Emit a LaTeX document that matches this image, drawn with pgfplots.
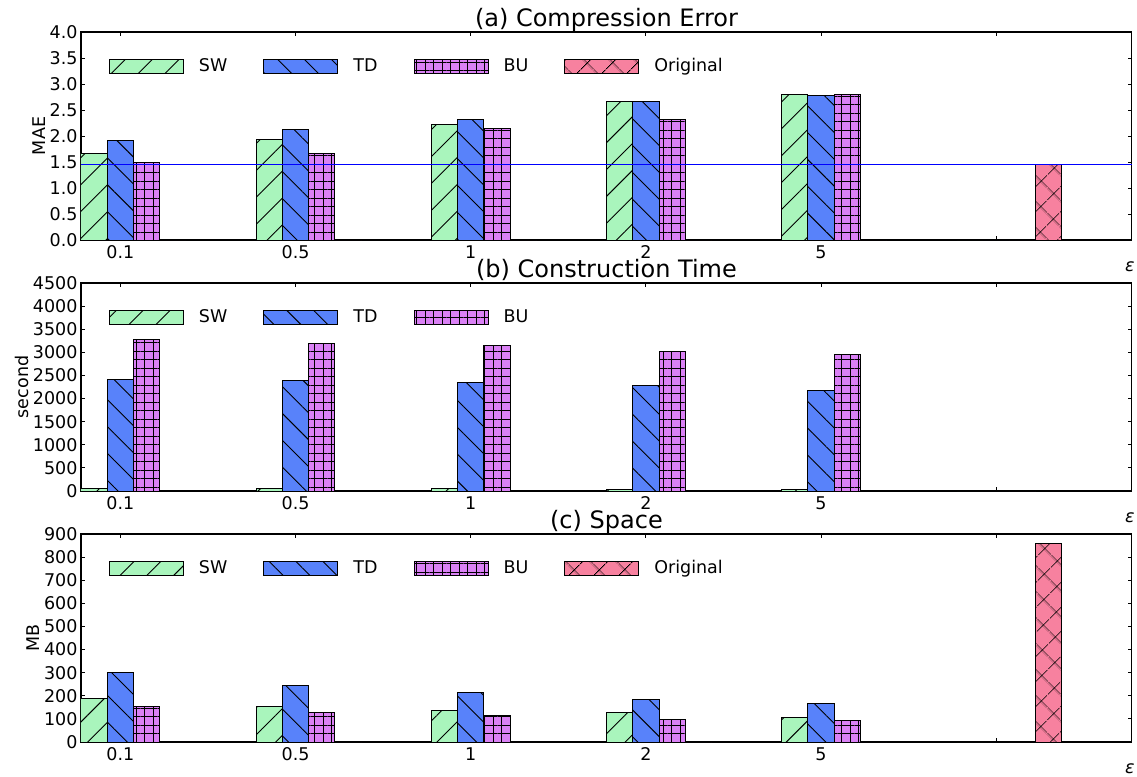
\documentclass[border=0pt]{standalone}
\usepackage{fontspec}
\setmainfont{DejaVu Sans}
\usepackage{pgfplots}
\pgfplotsset{compat=1.18}
\usetikzlibrary{patterns.meta}

\definecolor{swgreen}{HTML}{A9F5BC}
\definecolor{tdblue}{HTML}{5882FA}
\definecolor{buviolet}{HTML}{DA81F5}
\definecolor{origpink}{HTML}{F7819F}

\newcommand{\smallfont}{\fontsize{17.5}{21}\selectfont}

\pgfplotsset{
  panel/.style={
    scale only axis, width=1051pt, height=208pt,
    xmin=-0.225, xmax=5.775, ymin=0,
    xtick={0,1,2,3,4,5}, xticklabels={0.1,0.5,1,2,5,},
    tick align=inside, major tick length=4pt,
    every tick/.style={black, line width=0.8pt},
    axis line style={line width=1.1pt},
    tick label style={font=\smallfont},
    xticklabel style={yshift=-2pt},
    /pgf/number format/assume math mode=true,
    /pgf/number format/1000 sep={},
    scaled y ticks=false,
    label style={font=\smallfont},
    title style={font=\fontsize{24}{29}\selectfont, at={(0.5,1)}, anchor=base},
    xlabel={\itshape ε},
    xlabel style={at={(1,0)}, anchor=center, xshift=-2pt, yshift=-27pt},
    ylabel style={inner sep=1pt},
    legend columns=4,
    legend cell align=left,
    legend style={draw=none, fill=none, at={(0.0266,0.8365)}, anchor=west,
      inner sep=0pt, outer sep=0pt, nodes={inner sep=0pt},
      column sep=15pt, /tikz/every even column/.append style={column sep=36pt},
      font=\smallfont},
  },
  barstyle/.style={ybar, bar width=0.15, bar shift=0pt, draw=black, line width=1pt,
    legend image code/.code={\draw[##1] (0pt,-7pt) rectangle (74pt,7pt);}},
  sw/.style={barstyle, fill=swgreen,
    postaction={pattern={Lines[angle=45,distance=19pt,line width=0.9pt]}}},
  td/.style={barstyle, fill=tdblue,
    postaction={pattern={Lines[angle=-45,distance=19pt,line width=0.9pt]}}},
  bu/.style={barstyle, fill=buviolet,
    postaction={pattern={Hatch[angle=0,distance=8.5pt,line width=0.9pt]}}},
  orig/.style={barstyle, fill=origpink,
    postaction={pattern={Hatch[angle=45,distance=18.4pt,line width=0.9pt]}}},
}

\begin{document}
\begin{tikzpicture}
\path[use as bounding box] (-81pt,-536pt) rectangle (1056pt,240pt);

% (a) compression error
\begin{axis}[panel, at={(0,0)}, title={(a) Compression Error}, ylabel={MAE},
  ymax=4, ytick={0,0.5,...,4},
  yticklabel style={/pgf/number format/fixed, /pgf/number format/fixed zerofill, /pgf/number format/precision=1}]
\addplot[sw] coordinates {(-0.15,1.67) (0.85,1.93) (1.85,2.23) (2.85,2.67) (3.85,2.79) (4.85,0)};
\addlegendentry{SW}
\addplot[td] coordinates {(0,1.91) (1,2.13) (2,2.32) (3,2.67) (4,2.78) (5,0)};
\addlegendentry{TD}
\addplot[bu] coordinates {(0.15,1.50) (1.15,1.67) (2.15,2.14) (3.15,2.32) (4.15,2.80) (5.15,0)};
\addlegendentry{BU}
\addplot[orig] coordinates {(0.3,0) (1.3,0) (2.3,0) (3.3,0) (4.3,0) (5.3,1.46)};
\addlegendentry{Original}
\addplot[blue, line width=1pt, sharp plot, forget plot] coordinates {(-0.225,1.46) (5.775,1.46)};
\end{axis}

% (b) construction time
\begin{axis}[panel, at={(0,-251pt)}, title={(b) Construction Time}, ylabel={second},
  ymax=4500, ytick={0,500,...,4500}]
\addplot[sw] coordinates {(-0.15,52) (0.85,52) (1.85,52) (2.85,30) (3.85,30) (4.85,0)};
\addlegendentry{SW}
\addplot[td] coordinates {(0,2423) (1,2395) (2,2358) (3,2286) (4,2171) (5,0)};
\addlegendentry{TD}
\addplot[bu] coordinates {(0.15,3275) (1.15,3188) (2.15,3158) (3.15,3015) (4.15,2950) (5.15,0)};
\addlegendentry{BU}
\end{axis}

% (c) space
\begin{axis}[panel, at={(0,-502pt)}, title={(c) Space}, ylabel={MB},
  ymax=900, ytick={0,100,...,900}]
\addplot[sw] coordinates {(-0.15,190) (0.85,152) (1.85,138) (2.85,127) (3.85,108) (4.85,0)};
\addlegendentry{SW}
\addplot[td] coordinates {(0,299) (1,243) (2,213) (3,183) (4,166) (5,0)};
\addlegendentry{TD}
\addplot[bu] coordinates {(0.15,152) (1.15,126) (2.15,114) (3.15,99) (4.15,95) (5.15,0)};
\addlegendentry{BU}
\addplot[orig] coordinates {(0.3,0) (1.3,0) (2.3,0) (3.3,0) (4.3,0) (5.3,861)};
\addlegendentry{Original}
\end{axis}
\end{tikzpicture}
\end{document}
